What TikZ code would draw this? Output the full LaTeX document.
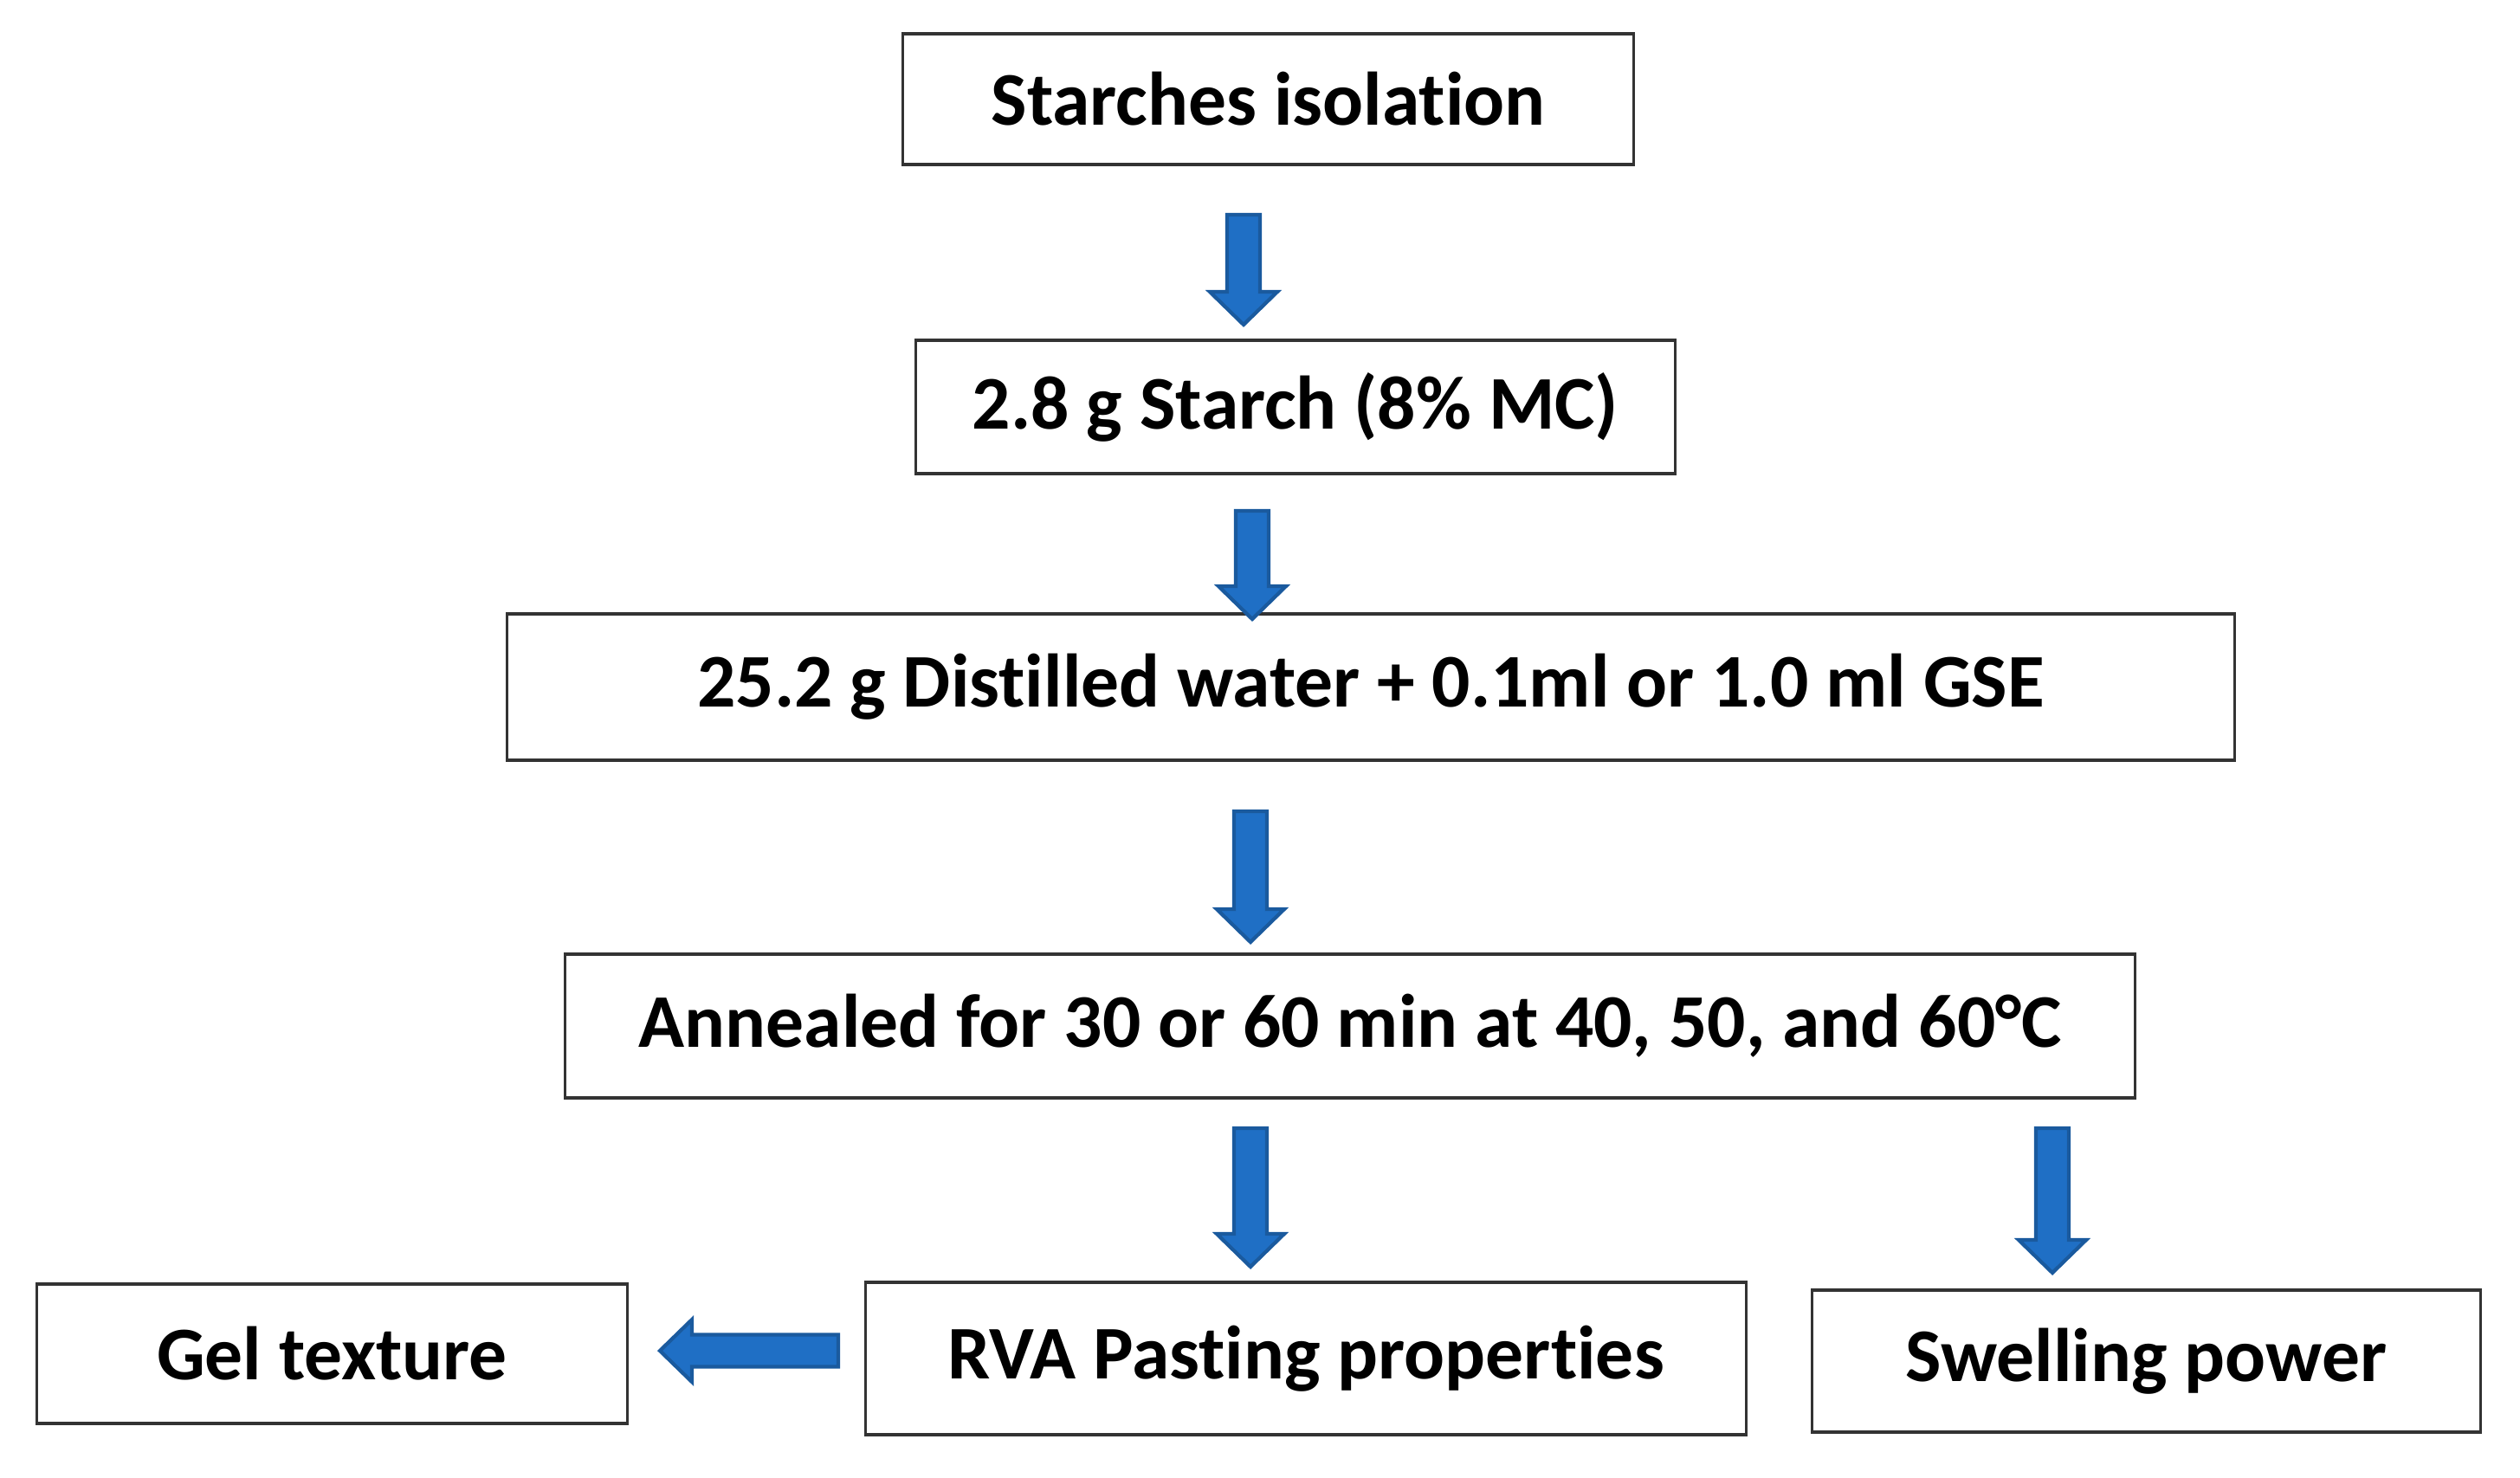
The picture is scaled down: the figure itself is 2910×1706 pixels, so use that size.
\documentclass[tikz,border=0pt]{standalone}
\usepackage{fontspec}
\setmainfont{Carlito}[Ligatures=NoCommon]
\usetikzlibrary{calc}
\definecolor{arrfill}{HTML}{1F6FC5}
\definecolor{arrline}{HTML}{1A5A9E}
\tikzset{
  box/.style={draw=black!80, line width=0.9pt, fill=white, inner sep=0pt, font=\fontsize{24.9}{29}\selectfont\bfseries},
  blockarrow/.style={fill=arrfill, draw=arrline, line width=1.2pt, line join=miter},
}
\newcommand\downblock[2]{%
  \draw[blockarrow] ($(#1)+(-19,0)$) -- ($(#2)+(-19,-38)$) -- ($(#2)+(-39,-38)$) -- (#2)
     -- ($(#2)+(39,-38)$) -- ($(#2)+(19,-38)$) -- ($(#1)+(19,0)$) -- cycle;}
\newcommand\leftblock[2]{%
  \draw[blockarrow] ($(#1)+(0,-18.5)$) -- ($(#2)+(37,-18.5)$) -- ($(#2)+(37,-36)$) -- (#2)
     -- ($(#2)+(37,36)$) -- ($(#2)+(37,18.5)$) -- ($(#1)+(0,18.5)$) -- cycle;}
\begin{document}
\begin{tikzpicture}[x=0.01cm, y=-0.01cm]
  \useasboundingbox (0,0) rectangle (2910,1706);
  \node[box, minimum width=8.43cm, minimum height=1.51cm] (b1) at (1464.5,114.5) {\raisebox{-2pt}{Starches isolation}};
  \node[box, minimum width=8.76cm, minimum height=1.54cm] (b2) at (1496,470) {\raisebox{-2pt}{2.8 g Starch (8\% MC)}};
  \node[box, minimum width=19.94cm, minimum height=1.69cm] (b3) at (1583,793.5) {25.2 g Distilled water + 0.1ml or 1.0 ml GSE};
  \node[box, minimum width=18.12cm, minimum height=1.66cm] (b4) at (1559,1185) {Annealed for 30 or 60 min at 40, 50, and 60°C};
  \node[box, minimum width=6.81cm, minimum height=1.61cm] (b5) at (383.5,1563.5) {Gel texture};
  \node[box, minimum width=10.16cm, minimum height=1.76cm] (b6) at (1508,1569) {RVA Pasting properties};
  \node[box, minimum width=7.71cm, minimum height=1.64cm] (b7) at (2478.5,1572) {Swelling power};

  \coordinate (a1s) at (1436,248);  \coordinate (a1e) at (1436,375);
  \coordinate (a2s) at (1446,590);  \coordinate (a2e) at (1446,715);
  \coordinate (a3s) at (1444,937);  \coordinate (a3e) at (1444,1088);
  \coordinate (a4s) at (1444,1303); \coordinate (a4e) at (1444,1463);
  \coordinate (a5s) at (2370,1303); \coordinate (a5e) at (2370,1470);
  \coordinate (a6s) at (968,1560);  \coordinate (a6e) at (762,1560);
  \downblock{a1s}{a1e}
  \downblock{a2s}{a2e}
  \downblock{a3s}{a3e}
  \downblock{a4s}{a4e}
  \downblock{a5s}{a5e}
  \leftblock{a6s}{a6e}
\end{tikzpicture}
\end{document}
